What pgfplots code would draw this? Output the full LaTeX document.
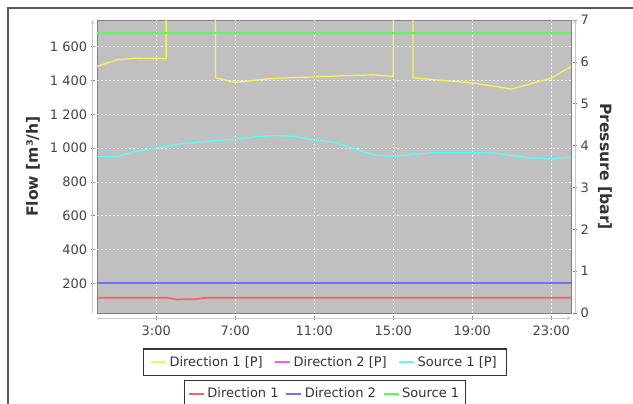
\documentclass[border=0pt]{standalone}
\usepackage{pgfplots}
\pgfplotsset{compat=1.18}
\usepackage{fontspec}
\setmainfont{DejaVu Sans}
\definecolor{sred}{RGB}{255,95,95}
\definecolor{sblue}{RGB}{110,110,255}
\definecolor{sgreen}{RGB}{85,255,85}
\definecolor{syellow}{RGB}{245,245,85}
\definecolor{smagenta}{RGB}{255,85,255}
\definecolor{scyan}{RGB}{85,255,255}
\definecolor{plotbg}{RGB}{192,192,192}
\definecolor{txt}{RGB}{68,68,68}
\definecolor{axln}{RGB}{200,200,200}
\newcommand\tk{\fontsize{13}{15}\selectfont}
\newcommand\lb{\fontsize{15.6}{18}\selectfont\bfseries}
\pgfplotsset{
  legend image code/.code={\draw[#1] (0pt,0pt) -- (15pt,0pt);},
  lgd/.style={anchor=north,
      draw=black!80, line width=1.2pt, fill=white, font=\tk, text=black!80,
      inner xsep=4pt, inner ysep=3.5pt,
      nodes={inner xsep=2.5pt, inner ysep=4pt},
      /tikz/every even column/.append style={column sep=4.5pt}},
  common/.style={
    at={(97pt,91pt)}, anchor=south west,
    scale only axis, width=474pt, height=293pt,
    xmin=0, xmax=24,
    /pgf/number format/assume math mode=true,
    tick align=outside, major tick length=4pt,
    tick style={black!45, line width=0.6pt},
    axis line style={axln, line width=0.8pt, -},
    every outer x axis line/.append style={-},
    every outer y axis line/.append style={-},
    ticklabel style={font=\tk, text=txt},
    legend cell align=left,
    legend columns=3,
    every axis plot post/.append style={line width=1.3pt, mark=none},
    legend image post style={line width=1.3pt},
  },
}
\begin{document}
\begin{tikzpicture}[x=1pt,y=1pt]
\path[use as bounding box] (0,0) rectangle (633,404);
\draw[line width=1.6pt, black!65] (633,396) -- (8,396) -- (8,-5);
% Frame, grid and flow axis (left)
\begin{axis}[common,
  ymin=25, ymax=1758,
  axis x line=bottom, axis y line=left,
  axis x line shift=5pt, axis y line shift=4.3pt,
  axis background/.style={fill=plotbg, draw=black!50, line width=0.8pt},
  xtick={3,7,11,15,19,23},
  xticklabels={3:00,7:00,11:00,15:00,19:00,23:00},
  xticklabel style={yshift=-2pt},
  ytick={200,400,600,800,1000,1200,1400,1600},
  yticklabels={200,400,600,800,1 000,1 200,1 400,1 600},
  grid=major,
  grid style={white, dash pattern=on 2pt off 2pt, line width=0.6pt},
  ylabel={Flow [m³/h]},
  ylabel style={at={(axis description cs:-0.135,0.5)}, anchor=center, font=\lb, text=black!80},
]
\end{axis}
% Pressure axis (right)
\begin{axis}[common,
  ymin=0, ymax=7,
  axis x line=none, axis y line=right,
  axis y line shift=4pt,
  ytick={0,1,2,3,4,5,6,7},
  yticklabels={0,1,2,3,4,5,6,7},
  ylabel={Pressure [bar]},
  ylabel style={at={(axis description cs:1.0717,0.5)}, anchor=center, rotate=180, font=\lb, text=black!80},
  legend style={lgd, at={(axis description cs:0.481,-0.1205)}, inner xsep=7pt,
    /tikz/every even column/.append style={column sep=9.5pt}},
]
\addplot[draw=syellow] coordinates {
(0,5.89) (1,6.05) (2,6.09) (3.5,6.08) (3.5,9) (6,9) (6,5.62) (7,5.51) (8.8,5.6)
(10.3,5.63) (12,5.66) (14,5.69) (15,5.65) (15,9) (16,9) (16,5.62) (19.1,5.49)
(21,5.35) (22,5.48) (23,5.61) (24,5.89)};
\addlegendentry{Direction 1 [P]}
\addlegendimage{draw=smagenta}
\addlegendentry{Direction 2 [P]}
\addplot[draw=scyan] coordinates {
(0,3.74) (1,3.74) (2,3.86) (3.5,3.98) (4,4.03) (6,4.12) (7,4.15) (8,4.21) (9,4.24)
(10,4.22) (11,4.13) (12,4.08) (13,3.93) (14,3.78) (15,3.74) (17,3.83) (19,3.83)
(20,3.83) (22,3.70) (23,3.68) (24,3.73)};
\addlegendentry{Source 1 [P]}
\end{axis}
% Flow series
\begin{axis}[common,
  ymin=25, ymax=1758, hide axis,
  every axis plot post/.append style={line width=1.7pt},
  legend image post style={line width=1.7pt},
  legend style={lgd, at={(axis description cs:0.481,-0.2287)}},
]
\addplot[draw=sred] coordinates {(0,115) (3.6,115) (4,105) (5,107) (5.5,115) (24,115)};
\addlegendentry{Direction 1}
\addplot[draw=sblue] coordinates {(0,201) (12,201) (24,201)};
\addlegendentry{Direction 2}
\addplot[draw=sgreen] coordinates {(0,1682) (12,1682) (24,1682)};
\addlegendentry{Source 1}
\end{axis}
\end{tikzpicture}
\end{document}
